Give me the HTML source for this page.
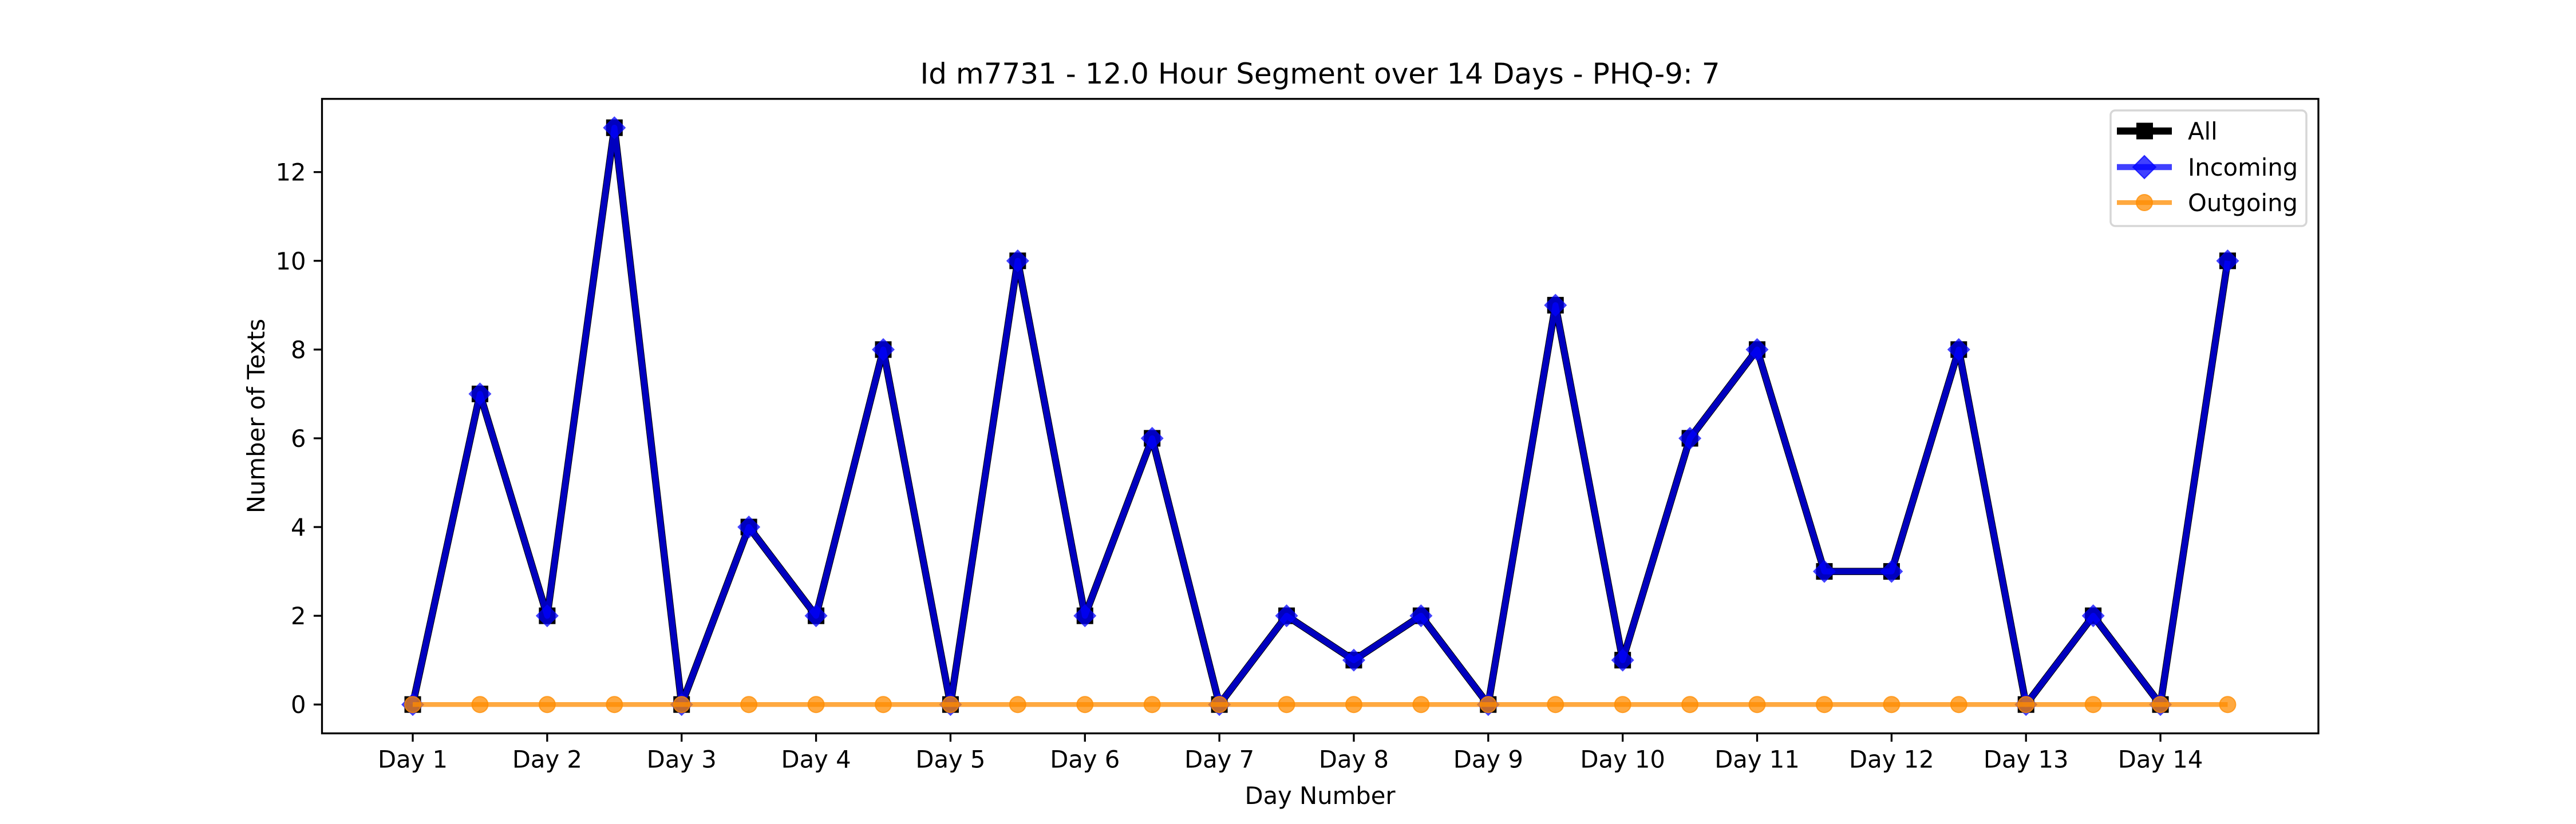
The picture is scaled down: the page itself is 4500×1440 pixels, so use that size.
<!DOCTYPE html>
<html><head><meta charset="utf-8"><style>
html,body{margin:0;padding:0;background:#fff;}
svg{display:block;font-family:"DejaVu Sans","Liberation Sans",sans-serif;}
</style></head><body>
<svg id="chart" width="4500" height="1440" viewBox="0 0 4500 1440">
<rect width="4500" height="1440" fill="#fff"/>
<text x="2306" y="146" font-size="50" text-anchor="middle">Id m7731 - 12.0 Hour Segment over 14 Days - PHQ-9: 7</text>
<g id="plot"></g>
<text x="2306" y="1405" font-size="41.7" text-anchor="middle">Day Number</text>
<text transform="translate(462,727) rotate(-90)" font-size="41.7" text-anchor="middle">Number of Texts</text>
<g>
<rect x="3687" y="193" width="342" height="202" rx="8" fill="#fff" fill-opacity="0.8" stroke="#d6d6d6" stroke-width="3.5"/>
<g>
<line x1="3698" y1="229" x2="3794" y2="229" stroke="#000" stroke-width="12.5"/>
<rect x="3732" y="214.5" width="29" height="29" fill="#000"/>
<text x="3822" y="244" font-size="41.7">All</text></g>
<g>
<line x1="3698" y1="292" x2="3794" y2="292" stroke="#0000ff" stroke-opacity="0.75" stroke-width="10.4"/>
<path d="M3746 272 L3766 292 L3746 312 L3726 292 Z" fill="#0000ff" fill-opacity="0.75" stroke="#0000ff" stroke-opacity="0.75" stroke-width="2"/>
<text x="3822" y="307" font-size="41.7">Incoming</text></g>
<g>
<line x1="3698" y1="354" x2="3794" y2="354" stroke="#ff8c00" stroke-opacity="0.75" stroke-width="8.3"/>
<circle cx="3746" cy="354" r="14" fill="#ff8c00" fill-opacity="0.75" stroke="#ff8c00" stroke-opacity="0.75" stroke-width="2"/>
<text x="3822" y="369" font-size="41.7">Outgoing</text></g>
</g>
</svg>
<script>
const dayLabels = ["Day 1","Day 2","Day 3","Day 4","Day 5","Day 6","Day 7","Day 8","Day 9","Day 10","Day 11","Day 12","Day 13","Day 14"];
const allValues = [0,7,2,13,0,4,2,8,0,10,2,6,0,2,1,2,0,9,1,6,8,3,3,8,0,2,0,10];
const incomingValues = [0,7,2,13,0,4,2,8,0,10,2,6,0,2,1,2,0,9,1,6,8,3,3,8,0,2,0,10];
const outgoingValues = [0,0,0,0,0,0,0,0,0,0,0,0,0,0,0,0,0,0,0,0,0,0,0,0,0,0,0,0];
const yTicks = [0,2,4,6,8,10,12];

const NS = "http://www.w3.org/2000/svg";
const L = 562.5, R = 4050, T = 172.8, B = 1281.6;
const n = allValues.length;
const xMin = -(n - 1) * 0.05, xMax = (n - 1) * 1.05;
const allMax = Math.max(...allValues, ...incomingValues, ...outgoingValues);
const yMin = -allMax * 0.05, yMax = allMax * 1.05;
const xs = i => L + (i - xMin) / (xMax - xMin) * (R - L);
const ys = v => B - (v - yMin) / (yMax - yMin) * (B - T);
const plot = document.getElementById("plot");
function mk(tag, attrs, parent) {
  const e = document.createElementNS(NS, tag);
  for (const k in attrs) e.setAttribute(k, attrs[k]);
  (parent || plot).appendChild(e);
  return e;
}
const frame = mk("rect", {x: L, y: T, width: R - L, height: B - T, fill: "none", stroke: "#000", "stroke-width": 3.3});


yTicks.forEach(v => {
  const y = ys(v);
  const t = mk("line", {x1: L - 14.6, y1: y, x2: L, y2: y, stroke: "#000", "stroke-width": 3.3});
  
  
  const tx = mk("text", {x: L - 28, y: y + 15, "font-size": 41.7, "text-anchor": "end"});
  tx.textContent = v;
  
  
});
dayLabels.forEach((lab, d) => {
  const x = xs(d * 2);
  const t = mk("line", {x1: x, y1: B, x2: x, y2: B + 14.6, stroke: "#000", "stroke-width": 3.3});
  
  
  const tx = mk("text", {x: x, y: B + 60, "font-size": 41.7, "text-anchor": "middle"});
  tx.textContent = lab;
  
  
});
function pts(vals) { return vals.map((v, i) => xs(i) + "," + ys(v)).join(" "); }
const gAll = mk("g", {});


mk("polyline", {points: pts(allValues), fill: "none", stroke: "#000", "stroke-width": 12.5, "stroke-linejoin": "round"}, gAll);
allValues.forEach((v, i) => {
  const m = mk("rect", {x: xs(i) - 14.5, y: ys(v) - 14.5, width: 29, height: 29, fill: "#000"}, gAll);
  
  
});
const gIn = mk("g", {opacity: 1});


mk("polyline", {points: pts(incomingValues), fill: "none", stroke: "#0000ff", "stroke-opacity": 0.75, "stroke-width": 10.4, "stroke-linejoin": "round"}, gIn);
incomingValues.forEach((v, i) => {
  const x = xs(i), y = ys(v);
  const m = mk("path", {d: `M${x} ${y - 20} L${x + 20} ${y} L${x} ${y + 20} L${x - 20} ${y} Z`, fill: "#0000ff", "fill-opacity": 0.75}, gIn);
  
  
});
const gOut = mk("g", {});


mk("polyline", {points: pts(outgoingValues), fill: "none", stroke: "#ff8c00", "stroke-opacity": 0.75, "stroke-width": 8.3}, gOut);
outgoingValues.forEach((v, i) => {
  const m = mk("circle", {cx: xs(i), cy: ys(v), r: 14, fill: "#ff8c00", "fill-opacity": 0.75, stroke: "#ff8c00", "stroke-opacity": 0.75, "stroke-width": 2}, gOut);
  
  
});
</script>
</body></html>
